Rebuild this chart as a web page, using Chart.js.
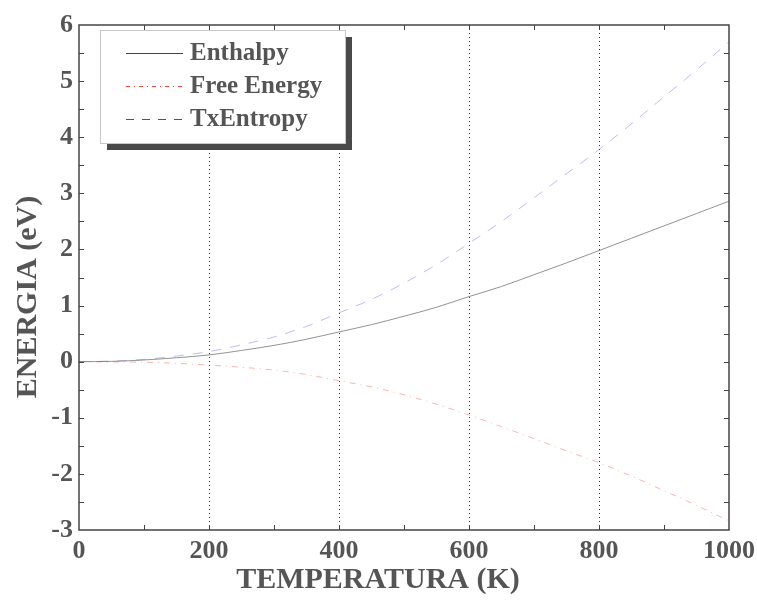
<!DOCTYPE html>
<html>
<head>
<meta charset="utf-8">
<script src="https://cdn.jsdelivr.net/npm/chart.js@4/dist/chart.umd.min.js"></script>
<style>
  html, body { margin: 0; padding: 0; background: #fff; }
  #wrap { width: 757px; height: 601px; }
</style>
</head>
<body>
<div id="wrap"><canvas id="c" width="757" height="601"></canvas></div>
<script>
// temperature (K)
const temps = [0, 50, 100, 150, 200, 250, 300, 350, 400, 450, 500, 550, 600, 650, 700, 750, 800, 850, 900, 950, 1000];
// energies in eV
const enthalpy = [0, 0.005, 0.03, 0.07, 0.12, 0.2, 0.29, 0.4, 0.53, 0.66, 0.81, 0.97, 1.16, 1.34, 1.55, 1.76, 1.98, 2.2, 2.42, 2.64, 2.86];
const freeEnergy = [0, -0.005, -0.01, -0.03, -0.06, -0.1, -0.15, -0.23, -0.34, -0.45, -0.59, -0.76, -0.95, -1.16, -1.37, -1.59, -1.8, -2.04, -2.3, -2.56, -2.84];
const txEntropy = [0, 0.01, 0.04, 0.1, 0.18, 0.3, 0.44, 0.63, 0.87, 1.11, 1.4, 1.73, 2.11, 2.5, 2.92, 3.35, 3.78, 4.24, 4.72, 5.2, 5.7];
const seriesNames = ['Enthalpy', 'Free Energy', 'TxEntropy'];
const xTitle = 'TEMPERATURA (K)';
const yTitle = 'ENERGIA (eV)';

const txt = '#555555';
const axisCol = '#444444';
const fontFam = '"Liberation Serif", "Times New Roman", serif';

function pts(ys) { return temps.map((t, i) => ({ x: t, y: ys[i] })); }

// ticks on all four sides + frame + axis titles + legend box
const frame = {
  id: 'frame',
  afterDraw(chart) {
    const { ctx, chartArea: a, scales } = chart;
    const xs = scales.x, ys = scales.y;
    ctx.save();
    ctx.strokeStyle = axisCol;
    ctx.lineWidth = 1.5;
    ctx.strokeRect(a.left, a.top, a.right - a.left, a.bottom - a.top);
    ctx.lineWidth = 1;
    ctx.beginPath();
    for (let v = 100; v < 1000; v += 100) {
      const px = Math.round(xs.getPixelForValue(v)) + 0.5;
      ctx.moveTo(px, a.bottom); ctx.lineTo(px, a.bottom - 5);
      ctx.moveTo(px, a.top); ctx.lineTo(px, a.top + 5);
    }
    for (let v = -2.5; v < 6; v += 0.5) {
      const py = Math.round(ys.getPixelForValue(v)) + 0.5;
      ctx.moveTo(a.left, py); ctx.lineTo(a.left + 5, py);
      ctx.moveTo(a.right, py); ctx.lineTo(a.right - 5, py);
    }
    ctx.stroke();

    // axis titles
    ctx.fillStyle = txt;
    ctx.font = 'bold 30px ' + fontFam;
    ctx.textAlign = 'center';
    ctx.textBaseline = 'middle';
    ctx.fillText(xTitle, 378, 580);
    ctx.save();
    ctx.translate(28, 297);
    ctx.rotate(-Math.PI / 2);
    ctx.fillText(yTitle, 0, 0);
    ctx.restore();

    // legend
    const bx = 100, by = 30, bw = 245, bh = 113;
    ctx.fillStyle = '#4a4a4a';
    ctx.fillRect(bx + 7, by + 7, bw, bh);
    ctx.fillStyle = '#ffffff';
    ctx.fillRect(bx, by, bw, bh);
    ctx.strokeStyle = '#c8c8c8';
    ctx.lineWidth = 1;
    ctx.strokeRect(bx + 0.5, by + 0.5, bw, bh);
    const legCols = ['#444444', '#f04a3a', '#4848a8'];
    const legDash = [[], [4, 4, 1, 4], [8, 8]];
    ctx.font = 'bold 25px ' + fontFam;
    ctx.textAlign = 'left';
    ctx.textBaseline = 'middle';
    seriesNames.forEach((n, i) => {
      const ry = by + 23 + i * 33;
      ctx.strokeStyle = legCols[i];
      ctx.setLineDash(legDash[i]);
      ctx.beginPath();
      ctx.moveTo(126, ry + 0.5); ctx.lineTo(183, ry + 0.5);
      ctx.stroke();
      ctx.setLineDash([]);
      ctx.fillStyle = txt;
      ctx.fillText(n, 190, ry + 1);
    });
    ctx.restore();
  }
};

new Chart(document.getElementById('c'), {
  type: 'line',
  data: {
    datasets: [
      { label: seriesNames[0], data: pts(enthalpy), borderColor: 'rgba(120,120,120,0.8)', borderWidth: 1, pointRadius: 0, cubicInterpolationMode: 'monotone' },
      { label: seriesNames[1], data: pts(freeEnergy), borderColor: 'rgba(240,90,80,0.45)', borderWidth: 1, borderDash: [6, 5, 1, 5], pointRadius: 0, cubicInterpolationMode: 'monotone' },
      { label: seriesNames[2], data: pts(txEntropy), borderColor: 'rgba(110,110,220,0.45)', borderWidth: 1, borderDash: [10, 9], pointRadius: 0, cubicInterpolationMode: 'monotone' }
    ]
  },
  options: {
    responsive: false,
    animation: false,
    layout: { padding: { top: 25, right: 28, left: 0, bottom: 0 } },
    plugins: { legend: { display: false }, tooltip: { enabled: false } },
    scales: {
      x: {
        type: 'linear', min: 0, max: 1000,
        ticks: { stepSize: 200, color: txt, font: { family: fontFam, size: 26, weight: 'bold' }, padding: 6, maxRotation: 0, callback: v => String(v) },
        grid: {
          drawTicks: false,
          color: c => (c.tick && (c.tick.value === 0 || c.tick.value === 1000)) ? 'rgba(0,0,0,0)' : '#333333',
          lineWidth: 1
        },
        border: { display: false, dash: [1, 3] },
        afterFit(s) { s.height = 71; s.paddingLeft = 0; s.paddingRight = 0; }
      },
      y: {
        min: -3, max: 6,
        ticks: { stepSize: 1, color: txt, font: { family: fontFam, size: 26, weight: 'bold' }, padding: 6 },
        grid: { display: false, drawTicks: false },
        border: { display: false },
        afterFit(s) { s.width = 79; s.paddingTop = 0; s.paddingBottom = 0; }
      }
    }
  },
  plugins: [frame]
});
</script>
</body>
</html>
